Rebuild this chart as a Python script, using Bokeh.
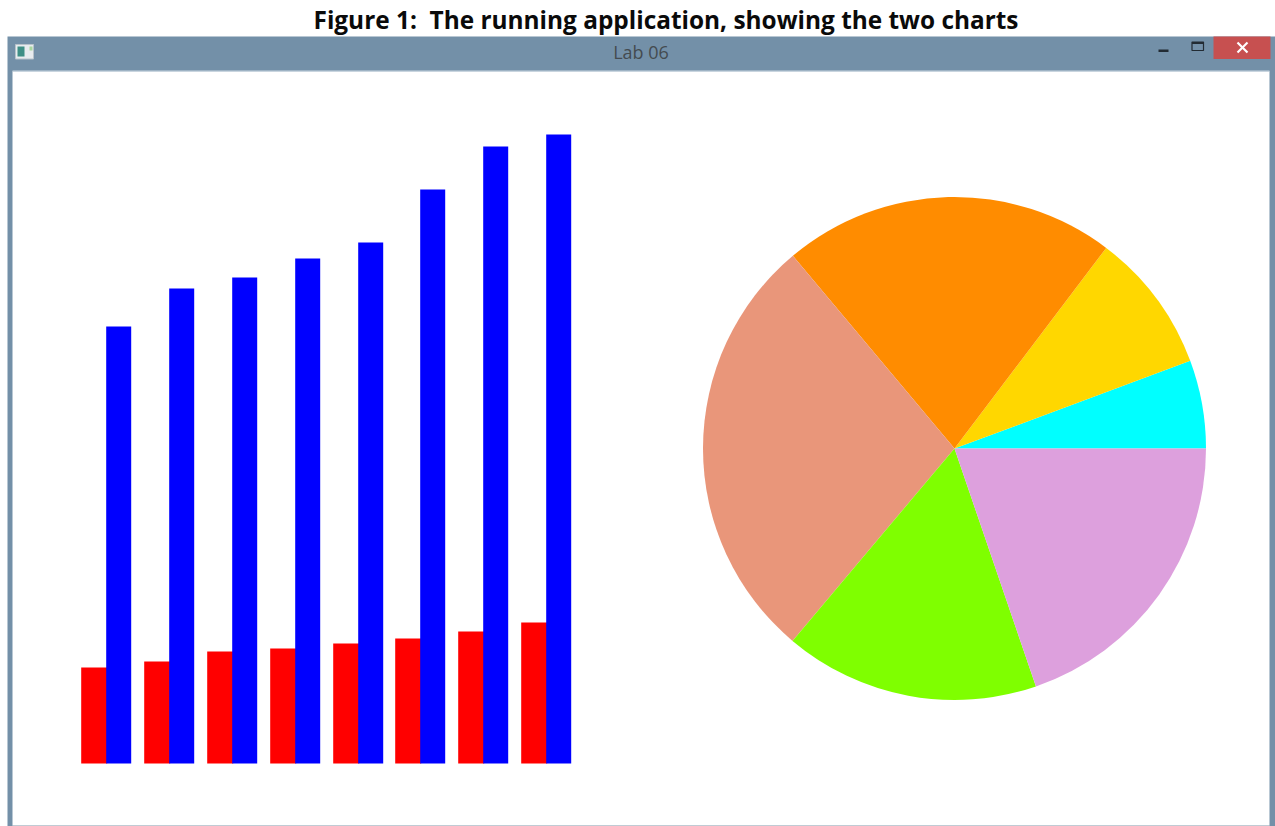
from bokeh.plotting import figure
from bokeh.models import Range1d
from bokeh.core.properties import value
from bokeh.embed import file_html
from bokeh.resources import INLINE
import math

# Bar chart values (heights)
red_values = [96, 102, 112, 115, 120, 125, 132, 141]
blue_values = [437, 475, 486, 505, 521, 574, 617, 629]
# Pie slice sizes in degrees, starting at east and going anticlockwise
pie_values = [20.4, 32.5, 77.1, 99.9, 59.0, 71.1]
pie_colors = ["#00FFFF", "#FFD700", "#FF8C00", "#E9967A", "#7FFF00", "#DDA0DD"]
title_text = "Figure 1:\u00a0 The running application, showing the two charts"
window_title = "Lab 06"

W, H = 1275, 826


def Y(py):
    return H - py


p = figure(width=W, height=H, output_backend="svg", toolbar_location=None,
           x_range=Range1d(0, W), y_range=Range1d(0, H), min_border=0)
p.axis.visible = False
p.grid.visible = False
p.outline_line_color = None
p.background_fill_color = "#FFFFFF"
p.border_fill_color = "#FFFFFF"

# window chrome
CHROME = "#7390A8"
p.quad(left=[7], right=[1275], top=[Y(36)], bottom=[Y(826)], fill_color=CHROME, line_color=None)
p.quad(left=[12], right=[1269], top=[Y(71)], bottom=[Y(825)], fill_color="#FFFFFF", line_color=None)
p.quad(left=[12], right=[1269], top=[Y(70)], bottom=[Y(71.5)], fill_color="#C9D5DF", line_color=None)
p.quad(left=[12], right=[1269], top=[Y(825)], bottom=[Y(826)], fill_color="#C8CDD3", line_color=None)
p.quad(left=[1213], right=[1270], top=[Y(36)], bottom=[Y(58.5)], fill_color="#C75050", line_color=None)
p.segment(x0=[1237, 1237], y0=[Y(42), Y(52)], x1=[1247, 1247], y1=[Y(52), Y(42)], line_color="#FFFFFF", line_width=2.2)
p.quad(left=[1158], right=[1168], top=[Y(49)], bottom=[Y(51.5)], fill_color="#222B33", line_color=None)
p.quad(left=[1191.5], right=[1203], top=[Y(41.5)], bottom=[Y(50)], fill_color=None, line_color="#222B33", line_width=1.2)
p.quad(left=[1191.5], right=[1203], top=[Y(41.5)], bottom=[Y(43.5)], fill_color="#222B33", line_color=None)
# window icon
p.quad(left=[15], right=[33], top=[Y(44)], bottom=[Y(58.5)], fill_color="#E8ECEF", line_color="#B8C2CA", line_width=1)
p.quad(left=[17], right=[24], top=[Y(46)], bottom=[Y(56)], fill_color="#3F8F86", line_color=None)
p.quad(left=[29], right=[32], top=[Y(46)], bottom=[Y(50)], fill_color="#A8D8A0", line_color=None)

# title texts
p.text(x=[665.5], y=[Y(18.5)], text=[title_text], text_font=value("Open Sans"), text_font_style="bold",
       text_font_size="24.4px", text_color="#0A0A0A", text_align="center", text_baseline="middle")
p.text(x=[640.5], y=[Y(51)], text=[window_title], text_font=value("Open Sans"),
       text_font_size="18px", text_color="#444B50", text_align="center", text_baseline="middle")

# bars: red runs under the blue bar so no seam shows between them
BASE = Y(763)
PITCH = 62.86
BAR_W = 25
START = 81
red_left = [round(START + i * PITCH + 0.1) - 0.3 for i in range(len(red_values))]
p.quad(left=red_left, right=[x + BAR_W + 1 for x in red_left], bottom=[BASE] * len(red_values),
       top=[BASE + v for v in red_values], fill_color="#FF0000", line_color=None)
p.quad(left=[x + BAR_W for x in red_left], right=[x + 2 * BAR_W for x in red_left], bottom=[BASE] * len(blue_values),
       top=[BASE + v for v in blue_values], fill_color="#0000FF", line_color=None)

# pie
cx, cy, r = 954, Y(448), 251.5
start = 0.0
for v, c in zip(pie_values, pie_colors):
    p.wedge(x=[cx], y=[cy], radius=r, start_angle=math.radians(start), end_angle=math.radians(start + v),
            fill_color=c, line_color=None)
    start += v

open("out.html", "w").write(file_html(p, INLINE))
